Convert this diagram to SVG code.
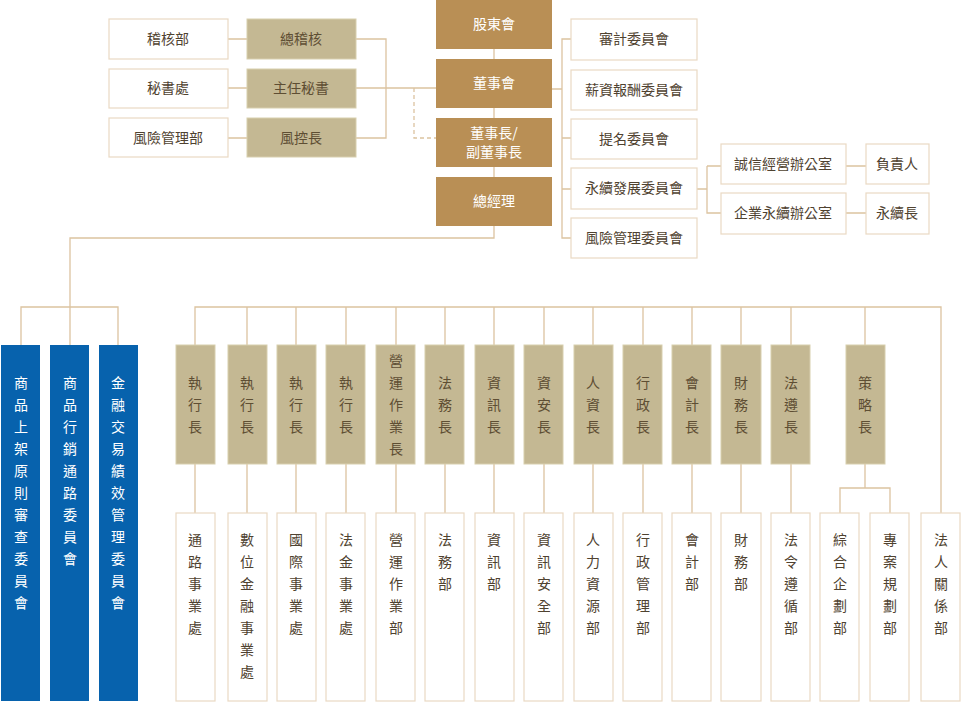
<svg xmlns="http://www.w3.org/2000/svg" width="961" height="702" viewBox="0 0 961 702">
<style>
text{font-family:"Noto Sans CJK TC","Noto Sans CJK SC",sans-serif;font-size:14px;text-anchor:middle}
.g{fill:#b98f55}.gt{fill:#fff}
.t{fill:#c4b893;stroke:#d8cfae;stroke-width:1}.tt{fill:#5e4e33}
.w{fill:#fff;stroke:#ead9c3;stroke-width:1.2}.wt{fill:#4f4230}
.b{fill:#0762ad}.bt{fill:#fff}
.c{fill:none;stroke:#dcc3a0;stroke-width:1.3}
</style>
<g id="connectors" class="c">
<path d="M494 49V59M494 108V118M494 167V177M494 226V238H70V307M21 345V307H118V345M70 307V345"/>
<path d="M356 39H386V138H356M356 88H436M228 39H247M228 88H247M228 138H247"/>
<path d="M414 88V138H436" stroke-dasharray="4 3"/>
<path d="M552 89H562M571 39H562V238H571M562 138H571M562 189H571M697 189H707M707 166V213H721M707 166H721M846 166H866M846 213H866"/>
<path d="M195 345V307H941V513M247 307V345M296 307V345M346 307V345M396 307V345M445 307V345M494 307V345M544 307V345M593 307V345M643 307V345M692 307V345M741 307V345M791 307V345M865 307V345"/>
<path d="M195 464V513M247 464V513M296 464V513M346 464V513M396 464V513M445 464V513M494 464V513M544 464V513M593 464V513M643 464V513M692 464V513M741 464V513M791 464V513M865 464V488M840 513V488H890V513"/>
</g>
<g id="n-gudong"><rect class="g" x="436" y="0" width="116" height="49"/><text class="gt" x="494" y="29">股東會</text></g>
<g id="n-dongshihui"><rect class="g" x="436" y="59" width="116" height="49"/><text class="gt" x="494" y="88">董事會</text></g>
<g id="n-chairman"><rect class="g" x="436" y="118" width="116" height="49"/><text class="gt" x="494" y="138">董事長/</text><text class="gt" x="494" y="157">副董事長</text></g>
<g id="n-gm"><rect class="g" x="436" y="177" width="116" height="49"/><text class="gt" x="494" y="206">總經理</text></g>
<g id="n-audit"><rect class="w" x="109" y="19" width="119" height="40"/><text class="wt" x="168" y="44">稽核部</text></g>
<g id="n-sec"><rect class="w" x="109" y="69" width="119" height="39"/><text class="wt" x="168" y="93">秘書處</text></g>
<g id="n-risk"><rect class="w" x="109" y="118" width="119" height="39"/><text class="wt" x="168" y="143">風險管理部</text></g>
<g id="n-chiefaudit"><rect class="t" x="247" y="19" width="109" height="40"/><text class="tt" x="301" y="44">總稽核</text></g>
<g id="n-chiefsec"><rect class="t" x="247" y="69" width="109" height="39"/><text class="tt" x="301" y="93">主任秘書</text></g>
<g id="n-cro"><rect class="t" x="247" y="118" width="109" height="39"/><text class="tt" x="301" y="143">風控長</text></g>
<g id="n-c1"><rect class="w" x="571" y="19" width="126" height="41"/><text class="wt" x="634" y="44">審計委員會</text></g>
<g id="n-c2"><rect class="w" x="571" y="70" width="126" height="40"/><text class="wt" x="634" y="95">薪資報酬委員會</text></g>
<g id="n-c3"><rect class="w" x="571" y="119" width="126" height="40"/><text class="wt" x="634" y="144">提名委員會</text></g>
<g id="n-c4"><rect class="w" x="571" y="168" width="126" height="41"/><text class="wt" x="634" y="193">永續發展委員會</text></g>
<g id="n-c5"><rect class="w" x="571" y="218" width="126" height="40"/><text class="wt" x="634" y="243">風險管理委員會</text></g>
<g id="n-o1"><rect class="w" x="721" y="144" width="125" height="40"/><text class="wt" x="783" y="169">誠信經營辦公室</text></g>
<g id="n-o2"><rect class="w" x="721" y="193" width="125" height="41"/><text class="wt" x="783" y="218">企業永續辦公室</text></g>
<g id="n-p1"><rect class="w" x="866" y="144" width="63" height="40"/><text class="wt" x="897" y="169">負責人</text></g>
<g id="n-p2"><rect class="w" x="866" y="193" width="63" height="41"/><text class="wt" x="897" y="218">永續長</text></g>

<g id="n-b1"><rect class="b" x="1" y="345" width="39" height="356"/><text class="bt" y="388"><tspan x="21">商</tspan><tspan x="21" dy="22">品</tspan><tspan x="21" dy="22">上</tspan><tspan x="21" dy="22">架</tspan><tspan x="21" dy="22">原</tspan><tspan x="21" dy="22">則</tspan><tspan x="21" dy="22">審</tspan><tspan x="21" dy="22">查</tspan><tspan x="21" dy="22">委</tspan><tspan x="21" dy="22">員</tspan><tspan x="21" dy="22">會</tspan></text></g>
<g id="n-b2"><rect class="b" x="50" y="345" width="39" height="356"/><text class="bt" y="388"><tspan x="70">商</tspan><tspan x="70" dy="22">品</tspan><tspan x="70" dy="22">行</tspan><tspan x="70" dy="22">銷</tspan><tspan x="70" dy="22">通</tspan><tspan x="70" dy="22">路</tspan><tspan x="70" dy="22">委</tspan><tspan x="70" dy="22">員</tspan><tspan x="70" dy="22">會</tspan></text></g>
<g id="n-b3"><rect class="b" x="99" y="345" width="39" height="356"/><text class="bt" y="388"><tspan x="118">金</tspan><tspan x="118" dy="22">融</tspan><tspan x="118" dy="22">交</tspan><tspan x="118" dy="22">易</tspan><tspan x="118" dy="22">績</tspan><tspan x="118" dy="22">效</tspan><tspan x="118" dy="22">管</tspan><tspan x="118" dy="22">理</tspan><tspan x="118" dy="22">委</tspan><tspan x="118" dy="22">員</tspan><tspan x="118" dy="22">會</tspan></text></g>

<g id="n-e1"><rect class="t" x="176" y="345" width="39" height="119"/><text class="tt" y="388"><tspan x="195">執</tspan><tspan x="195" dy="22">行</tspan><tspan x="195" dy="22">長</tspan></text></g>
<g id="n-e2"><rect class="t" x="228" y="345" width="39" height="119"/><text class="tt" y="388"><tspan x="247">執</tspan><tspan x="247" dy="22">行</tspan><tspan x="247" dy="22">長</tspan></text></g>
<g id="n-e3"><rect class="t" x="277" y="345" width="39" height="119"/><text class="tt" y="388"><tspan x="296">執</tspan><tspan x="296" dy="22">行</tspan><tspan x="296" dy="22">長</tspan></text></g>
<g id="n-e4"><rect class="t" x="326" y="345" width="39" height="119"/><text class="tt" y="388"><tspan x="346">執</tspan><tspan x="346" dy="22">行</tspan><tspan x="346" dy="22">長</tspan></text></g>
<g id="n-e5"><rect class="t" x="376" y="345" width="39" height="119"/><text class="tt" y="366"><tspan x="396">營</tspan><tspan x="396" dy="22">運</tspan><tspan x="396" dy="22">作</tspan><tspan x="396" dy="22">業</tspan><tspan x="396" dy="22">長</tspan></text></g>
<g id="n-e6"><rect class="t" x="425" y="345" width="39" height="119"/><text class="tt" y="388"><tspan x="445">法</tspan><tspan x="445" dy="22">務</tspan><tspan x="445" dy="22">長</tspan></text></g>
<g id="n-e7"><rect class="t" x="475" y="345" width="39" height="119"/><text class="tt" y="388"><tspan x="494">資</tspan><tspan x="494" dy="22">訊</tspan><tspan x="494" dy="22">長</tspan></text></g>
<g id="n-e8"><rect class="t" x="524" y="345" width="39" height="119"/><text class="tt" y="388"><tspan x="544">資</tspan><tspan x="544" dy="22">安</tspan><tspan x="544" dy="22">長</tspan></text></g>
<g id="n-e9"><rect class="t" x="574" y="345" width="39" height="119"/><text class="tt" y="388"><tspan x="593">人</tspan><tspan x="593" dy="22">資</tspan><tspan x="593" dy="22">長</tspan></text></g>
<g id="n-e10"><rect class="t" x="623" y="345" width="39" height="119"/><text class="tt" y="388"><tspan x="643">行</tspan><tspan x="643" dy="22">政</tspan><tspan x="643" dy="22">長</tspan></text></g>
<g id="n-e11"><rect class="t" x="672" y="345" width="39" height="119"/><text class="tt" y="388"><tspan x="692">會</tspan><tspan x="692" dy="22">計</tspan><tspan x="692" dy="22">長</tspan></text></g>
<g id="n-e12"><rect class="t" x="721" y="345" width="40" height="119"/><text class="tt" y="388"><tspan x="741">財</tspan><tspan x="741" dy="22">務</tspan><tspan x="741" dy="22">長</tspan></text></g>
<g id="n-e13"><rect class="t" x="771" y="345" width="39" height="119"/><text class="tt" y="388"><tspan x="791">法</tspan><tspan x="791" dy="22">遵</tspan><tspan x="791" dy="22">長</tspan></text></g>
<g id="n-e14"><rect class="t" x="846" y="345" width="39" height="119"/><text class="tt" y="388"><tspan x="865">策</tspan><tspan x="865" dy="22">略</tspan><tspan x="865" dy="22">長</tspan></text></g>

<g id="n-d1"><rect class="w" x="176" y="513" width="39" height="188"/><text class="wt" y="545"><tspan x="195">通</tspan><tspan x="195" dy="22">路</tspan><tspan x="195" dy="22">事</tspan><tspan x="195" dy="22">業</tspan><tspan x="195" dy="22">處</tspan></text></g>
<g id="n-d2"><rect class="w" x="228" y="513" width="39" height="188"/><text class="wt" y="545"><tspan x="247">數</tspan><tspan x="247" dy="22">位</tspan><tspan x="247" dy="22">金</tspan><tspan x="247" dy="22">融</tspan><tspan x="247" dy="22">事</tspan><tspan x="247" dy="22">業</tspan><tspan x="247" dy="22">處</tspan></text></g>
<g id="n-d3"><rect class="w" x="277" y="513" width="39" height="188"/><text class="wt" y="545"><tspan x="296">國</tspan><tspan x="296" dy="22">際</tspan><tspan x="296" dy="22">事</tspan><tspan x="296" dy="22">業</tspan><tspan x="296" dy="22">處</tspan></text></g>
<g id="n-d4"><rect class="w" x="326" y="513" width="39" height="188"/><text class="wt" y="545"><tspan x="346">法</tspan><tspan x="346" dy="22">金</tspan><tspan x="346" dy="22">事</tspan><tspan x="346" dy="22">業</tspan><tspan x="346" dy="22">處</tspan></text></g>
<g id="n-d5"><rect class="w" x="376" y="513" width="39" height="188"/><text class="wt" y="545"><tspan x="396">營</tspan><tspan x="396" dy="22">運</tspan><tspan x="396" dy="22">作</tspan><tspan x="396" dy="22">業</tspan><tspan x="396" dy="22">部</tspan></text></g>
<g id="n-d6"><rect class="w" x="425" y="513" width="39" height="188"/><text class="wt" y="545"><tspan x="445">法</tspan><tspan x="445" dy="22">務</tspan><tspan x="445" dy="22">部</tspan></text></g>
<g id="n-d7"><rect class="w" x="475" y="513" width="39" height="188"/><text class="wt" y="545"><tspan x="494">資</tspan><tspan x="494" dy="22">訊</tspan><tspan x="494" dy="22">部</tspan></text></g>
<g id="n-d8"><rect class="w" x="524" y="513" width="39" height="188"/><text class="wt" y="545"><tspan x="544">資</tspan><tspan x="544" dy="22">訊</tspan><tspan x="544" dy="22">安</tspan><tspan x="544" dy="22">全</tspan><tspan x="544" dy="22">部</tspan></text></g>
<g id="n-d9"><rect class="w" x="574" y="513" width="39" height="188"/><text class="wt" y="545"><tspan x="593">人</tspan><tspan x="593" dy="22">力</tspan><tspan x="593" dy="22">資</tspan><tspan x="593" dy="22">源</tspan><tspan x="593" dy="22">部</tspan></text></g>
<g id="n-d10"><rect class="w" x="623" y="513" width="39" height="188"/><text class="wt" y="545"><tspan x="643">行</tspan><tspan x="643" dy="22">政</tspan><tspan x="643" dy="22">管</tspan><tspan x="643" dy="22">理</tspan><tspan x="643" dy="22">部</tspan></text></g>
<g id="n-d11"><rect class="w" x="672" y="513" width="39" height="188"/><text class="wt" y="545"><tspan x="692">會</tspan><tspan x="692" dy="22">計</tspan><tspan x="692" dy="22">部</tspan></text></g>
<g id="n-d12"><rect class="w" x="721" y="513" width="40" height="188"/><text class="wt" y="545"><tspan x="741">財</tspan><tspan x="741" dy="22">務</tspan><tspan x="741" dy="22">部</tspan></text></g>
<g id="n-d13"><rect class="w" x="771" y="513" width="39" height="188"/><text class="wt" y="545"><tspan x="791">法</tspan><tspan x="791" dy="22">令</tspan><tspan x="791" dy="22">遵</tspan><tspan x="791" dy="22">循</tspan><tspan x="791" dy="22">部</tspan></text></g>
<g id="n-d14"><rect class="w" x="820" y="513" width="39" height="188"/><text class="wt" y="545"><tspan x="840">綜</tspan><tspan x="840" dy="22">合</tspan><tspan x="840" dy="22">企</tspan><tspan x="840" dy="22">劃</tspan><tspan x="840" dy="22">部</tspan></text></g>
<g id="n-d15"><rect class="w" x="870" y="513" width="39" height="188"/><text class="wt" y="545"><tspan x="890">專</tspan><tspan x="890" dy="22">案</tspan><tspan x="890" dy="22">規</tspan><tspan x="890" dy="22">劃</tspan><tspan x="890" dy="22">部</tspan></text></g>
<g id="n-d16"><rect class="w" x="921" y="513" width="39" height="188"/><text class="wt" y="545"><tspan x="941">法</tspan><tspan x="941" dy="22">人</tspan><tspan x="941" dy="22">關</tspan><tspan x="941" dy="22">係</tspan><tspan x="941" dy="22">部</tspan></text></g>
</svg>
